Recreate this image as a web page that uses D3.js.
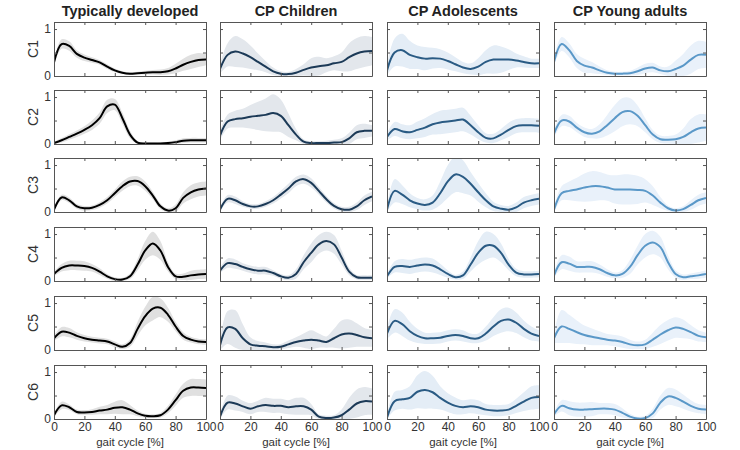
<!DOCTYPE html>
<html>
<head>
<meta charset="utf-8">
<script src="https://cdn.jsdelivr.net/npm/d3@7"></script>
<style>
  body { margin: 0; background: #fff; }
  text { font-family: Arial, "Liberation Sans", sans-serif; }
</style>
</head>
<body>
<svg id="chart" width="740" height="450"></svg>
<script>
var groups = ["Typically developed", "CP Children", "CP Adolescents", "CP Young adults"];
var components = ["C1", "C2", "C3", "C4", "C5", "C6"];
var gait = d3.range(0, 101, 5);
var xTicks = [0, 20, 40, 60, 80, 100];

// mean curves, one row per component, sampled every 5% of the gait cycle
var meanTD = [
  [0.29,0.68,0.64,0.47,0.39,0.34,0.29,0.2,0.12,0.07,0.05,0.06,0.07,0.08,0.08,0.1,0.16,0.24,0.3,0.34,0.35],
  [0.02,0.08,0.15,0.22,0.3,0.4,0.55,0.8,0.84,0.55,0.2,0.03,0.01,0.01,0.01,0.02,0.04,0.07,0.08,0.08,0.08],
  [0.05,0.31,0.25,0.12,0.08,0.09,0.15,0.25,0.4,0.55,0.65,0.66,0.55,0.35,0.12,0.03,0.08,0.3,0.42,0.48,0.5],
  [0.15,0.28,0.33,0.33,0.32,0.28,0.2,0.1,0.04,0.03,0.1,0.35,0.65,0.8,0.65,0.3,0.1,0.09,0.12,0.14,0.15],
  [0.25,0.39,0.37,0.3,0.25,0.22,0.2,0.18,0.12,0.07,0.15,0.45,0.72,0.88,0.9,0.75,0.5,0.3,0.22,0.18,0.17],
  [0.08,0.29,0.25,0.15,0.14,0.15,0.18,0.2,0.24,0.25,0.2,0.12,0.07,0.06,0.08,0.2,0.4,0.6,0.67,0.67,0.66]
];
var sdTD = [
  [0.05,0.1,0.1,0.08,0.07,0.06,0.05,0.05,0.04,0.03,0.03,0.03,0.04,0.05,0.06,0.07,0.1,0.13,0.15,0.15,0.12],
  [0.03,0.05,0.06,0.07,0.08,0.1,0.12,0.14,0.12,0.12,0.08,0.03,0.02,0.02,0.02,0.03,0.04,0.05,0.05,0.05,0.05],
  [0.04,0.06,0.06,0.05,0.05,0.05,0.06,0.07,0.08,0.1,0.1,0.1,0.1,0.08,0.06,0.05,0.08,0.12,0.15,0.15,0.15],
  [0.05,0.08,0.1,0.1,0.1,0.08,0.07,0.05,0.04,0.04,0.06,0.12,0.2,0.25,0.2,0.1,0.06,0.07,0.1,0.1,0.1],
  [0.06,0.1,0.1,0.08,0.07,0.06,0.06,0.06,0.06,0.05,0.08,0.15,0.2,0.25,0.2,0.15,0.1,0.08,0.06,0.06,0.06],
  [0.04,0.08,0.06,0.05,0.05,0.06,0.08,0.1,0.13,0.15,0.1,0.06,0.04,0.04,0.05,0.08,0.12,0.15,0.18,0.18,0.18]
];
var meanChildren = [
  [0.15,0.45,0.52,0.48,0.4,0.3,0.2,0.1,0.05,0.04,0.07,0.13,0.18,0.21,0.23,0.27,0.3,0.4,0.48,0.52,0.53],
  [0.18,0.48,0.53,0.55,0.58,0.6,0.62,0.66,0.6,0.4,0.2,0.05,0.02,0.02,0.02,0.03,0.04,0.12,0.25,0.28,0.28],
  [0.05,0.28,0.25,0.17,0.12,0.12,0.17,0.25,0.37,0.5,0.65,0.7,0.62,0.45,0.27,0.13,0.06,0.05,0.12,0.25,0.33],
  [0.22,0.38,0.36,0.3,0.25,0.22,0.22,0.17,0.1,0.07,0.15,0.4,0.6,0.78,0.85,0.78,0.5,0.2,0.08,0.07,0.07],
  [0.1,0.48,0.45,0.25,0.12,0.09,0.08,0.06,0.07,0.12,0.17,0.2,0.22,0.2,0.17,0.25,0.33,0.35,0.32,0.27,0.25],
  [0.05,0.35,0.33,0.27,0.22,0.27,0.3,0.28,0.28,0.25,0.27,0.27,0.2,0.05,0.02,0.03,0.08,0.2,0.33,0.38,0.37]
];
var sdChildren = [
  [0.1,0.25,0.33,0.3,0.25,0.18,0.12,0.08,0.05,0.05,0.08,0.12,0.2,0.2,0.15,0.15,0.2,0.3,0.33,0.33,0.3],
  [0.1,0.15,0.18,0.2,0.25,0.3,0.35,0.4,0.35,0.25,0.12,0.05,0.04,0.04,0.05,0.06,0.08,0.12,0.15,0.15,0.12],
  [0.04,0.08,0.08,0.06,0.05,0.05,0.06,0.07,0.08,0.1,0.1,0.1,0.1,0.08,0.07,0.06,0.05,0.06,0.08,0.1,0.1],
  [0.06,0.1,0.1,0.08,0.08,0.08,0.08,0.06,0.05,0.05,0.1,0.15,0.2,0.2,0.2,0.2,0.15,0.08,0.05,0.05,0.05],
  [0.1,0.35,0.4,0.3,0.15,0.1,0.08,0.06,0.06,0.08,0.1,0.15,0.2,0.15,0.12,0.2,0.3,0.3,0.25,0.2,0.18],
  [0.05,0.15,0.15,0.12,0.12,0.12,0.15,0.15,0.15,0.15,0.18,0.18,0.12,0.05,0.05,0.05,0.12,0.25,0.3,0.3,0.28]
];
var meanAdolescents = [
  [0.12,0.5,0.55,0.45,0.4,0.37,0.38,0.37,0.32,0.25,0.18,0.15,0.2,0.3,0.35,0.35,0.35,0.33,0.3,0.27,0.27],
  [0.15,0.32,0.27,0.25,0.3,0.35,0.42,0.46,0.48,0.5,0.52,0.4,0.25,0.13,0.12,0.2,0.3,0.38,0.4,0.4,0.39],
  [0.05,0.45,0.37,0.25,0.18,0.15,0.2,0.4,0.65,0.8,0.75,0.6,0.42,0.25,0.12,0.07,0.05,0.1,0.2,0.25,0.28],
  [0.1,0.3,0.32,0.3,0.33,0.35,0.33,0.25,0.15,0.08,0.12,0.35,0.6,0.75,0.75,0.6,0.35,0.18,0.14,0.14,0.15],
  [0.35,0.62,0.55,0.4,0.3,0.25,0.25,0.26,0.3,0.32,0.3,0.25,0.25,0.35,0.5,0.62,0.65,0.58,0.45,0.35,0.3],
  [0.03,0.38,0.42,0.45,0.58,0.62,0.57,0.45,0.35,0.28,0.25,0.27,0.25,0.2,0.18,0.18,0.2,0.28,0.37,0.45,0.47]
];
var sdAdolescents = [
  [0.1,0.3,0.35,0.3,0.25,0.25,0.22,0.2,0.18,0.15,0.12,0.12,0.18,0.25,0.3,0.28,0.22,0.15,0.12,0.1,0.1],
  [0.08,0.15,0.15,0.15,0.18,0.2,0.22,0.25,0.25,0.25,0.25,0.2,0.15,0.1,0.1,0.12,0.15,0.15,0.15,0.15,0.15],
  [0.05,0.25,0.2,0.15,0.12,0.12,0.15,0.25,0.35,0.38,0.35,0.25,0.2,0.15,0.1,0.08,0.08,0.1,0.12,0.12,0.12],
  [0.05,0.12,0.15,0.15,0.15,0.15,0.15,0.12,0.08,0.05,0.08,0.15,0.25,0.3,0.25,0.2,0.12,0.08,0.07,0.07,0.07],
  [0.12,0.25,0.25,0.2,0.15,0.12,0.12,0.12,0.12,0.12,0.12,0.1,0.1,0.15,0.2,0.25,0.25,0.22,0.18,0.15,0.12],
  [0.05,0.2,0.2,0.25,0.35,0.4,0.35,0.25,0.2,0.18,0.15,0.15,0.15,0.12,0.12,0.12,0.12,0.15,0.2,0.25,0.25]
];
var meanYoung = [
  [0.3,0.68,0.55,0.32,0.22,0.18,0.12,0.07,0.05,0.05,0.06,0.1,0.16,0.18,0.12,0.1,0.15,0.22,0.35,0.45,0.45],
  [0.22,0.5,0.48,0.35,0.25,0.22,0.27,0.4,0.55,0.68,0.7,0.6,0.4,0.2,0.1,0.09,0.1,0.15,0.25,0.33,0.35],
  [0.05,0.4,0.45,0.48,0.52,0.55,0.55,0.52,0.48,0.48,0.48,0.47,0.45,0.35,0.2,0.08,0.03,0.06,0.15,0.25,0.3],
  [0.12,0.4,0.37,0.3,0.3,0.3,0.25,0.17,0.12,0.15,0.3,0.55,0.75,0.82,0.72,0.4,0.15,0.08,0.1,0.12,0.15],
  [0.25,0.5,0.45,0.38,0.32,0.28,0.25,0.22,0.2,0.17,0.12,0.1,0.12,0.22,0.33,0.42,0.48,0.45,0.38,0.3,0.27],
  [0.1,0.28,0.23,0.2,0.2,0.21,0.22,0.22,0.2,0.13,0.05,0.01,0.02,0.12,0.35,0.48,0.45,0.37,0.28,0.22,0.2]
];
var sdYoung = [
  [0.08,0.15,0.15,0.15,0.15,0.12,0.08,0.05,0.04,0.04,0.05,0.08,0.1,0.1,0.08,0.1,0.18,0.25,0.3,0.3,0.28],
  [0.08,0.12,0.12,0.1,0.1,0.1,0.15,0.22,0.28,0.3,0.28,0.22,0.15,0.1,0.08,0.08,0.1,0.18,0.28,0.3,0.28],
  [0.05,0.15,0.2,0.25,0.3,0.32,0.3,0.28,0.3,0.32,0.32,0.3,0.25,0.2,0.12,0.06,0.05,0.06,0.1,0.12,0.12],
  [0.05,0.15,0.15,0.12,0.12,0.12,0.1,0.08,0.06,0.08,0.15,0.2,0.25,0.25,0.22,0.15,0.08,0.06,0.06,0.07,0.08],
  [0.1,0.35,0.3,0.25,0.2,0.18,0.15,0.12,0.12,0.12,0.1,0.08,0.1,0.15,0.2,0.22,0.22,0.2,0.15,0.12,0.1],
  [0.05,0.12,0.15,0.15,0.15,0.15,0.12,0.12,0.12,0.1,0.06,0.04,0.05,0.1,0.15,0.18,0.18,0.15,0.12,0.1,0.1]
];

var means = [meanTD, meanChildren, meanAdolescents, meanYoung];
var sds = [sdTD, sdChildren, sdAdolescents, sdYoung];
var lineColors = ["#000000", "#1c3a57", "#2a5b84", "#5a98c8"];
var bandColors = ["#e0e0e0", "#e3e7ec", "#e4edf6", "#e9f1fa"];

var svg = d3.select("#chart");
var panelW = 152, panelH = 54;
var lefts = [54, 220, 387, 554];
var tops = [22, 90, 158, 227, 296, 365];

var x = d3.scaleLinear().domain([0, 100]).range([0, panelW]);
var y = d3.scaleLinear().domain([0, 1.15]).range([panelH, 0]);

var line = d3.line()
    .x(function(d, i) { return x(gait[i]); })
    .y(function(d) { return y(d); })
    .curve(d3.curveCatmullRom);

var defs = svg.append("defs");
defs.append("clipPath").attr("id", "clip")
    .append("rect").attr("width", panelW).attr("height", panelH);

groups.forEach(function(name, gi) {
    svg.append("text")
        .attr("x", lefts[gi] + panelW / 2).attr("y", 16)
        .attr("text-anchor", "middle")
        .style("font-size", "14.5px").style("font-weight", "bold").style("fill", "#222")
        .text(name);

    components.forEach(function(comp, ci) {
        var g = svg.append("g").attr("transform", "translate(" + lefts[gi] + "," + tops[ci] + ")");
        var m = means[gi][ci], s = sds[gi][ci];

        var area = d3.area()
            .x(function(d, i) { return x(gait[i]); })
            .y0(function(d, i) { return y(Math.max(0, d - s[i])); })
            .y1(function(d, i) { return y(d + s[i]); })
            .curve(d3.curveCatmullRom);

        var inner = g.append("g").attr("clip-path", "url(#clip)");
        inner.append("path").datum(m).attr("d", area).attr("fill", bandColors[gi]);
        inner.append("path").datum(m).attr("d", line)
            .attr("fill", "none").attr("stroke", lineColors[gi]).attr("stroke-width", 2);

        // box with inward ticks on all sides
        var bottom = d3.axisBottom(x).tickValues(xTicks).tickSizeInner(-3).tickSizeOuter(0)
            .tickFormat(ci == components.length - 1 ? d3.format("d") : "");
        var top = d3.axisTop(x).tickValues(xTicks).tickSizeInner(-3).tickSizeOuter(0).tickFormat("");
        var left = d3.axisLeft(y).tickValues([0, 0.5, 1]).tickSizeInner(-3).tickSizeOuter(0)
            .tickFormat(gi == 0 ? function(d) { return d == 0.5 ? "" : d; } : "");
        var right = d3.axisRight(y).tickValues([0, 0.5, 1]).tickSizeInner(-3).tickSizeOuter(0).tickFormat("");

        [g.append("g").attr("transform", "translate(0," + panelH + ")").call(bottom),
         g.append("g").call(top),
         g.append("g").call(left),
         g.append("g").attr("transform", "translate(" + panelW + ",0)").call(right)
        ].forEach(function(a) {
            a.selectAll("path, line").attr("stroke", "#555");
            a.selectAll("text").style("font-size", "12px").style("fill", "#333")
                .style("font-family", "Arial, 'Liberation Sans', sans-serif");
        });

        if (gi == 0) {
            svg.append("text")
                .attr("transform", "translate(" + 38 + "," + (tops[ci] + panelH / 2) + ") rotate(-90)")
                .attr("text-anchor", "middle")
                .style("font-size", "14px").style("fill", "#333")
                .text(comp);
        }
    });

    svg.append("text")
        .attr("x", lefts[gi] + panelW / 2).attr("y", 446)
        .attr("text-anchor", "middle")
        .style("font-size", "11.5px").style("fill", "#333")
        .text("gait cycle [%]");
});
</script>
</body>
</html>
